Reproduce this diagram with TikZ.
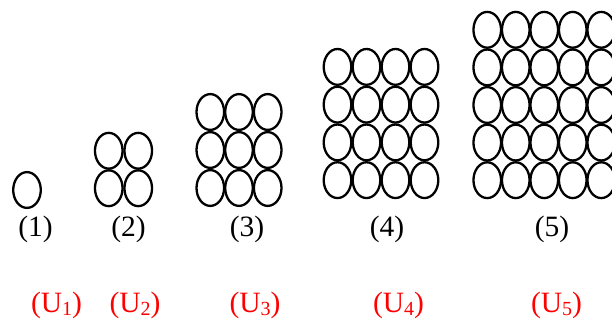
\documentclass[tikz,border=0pt]{standalone}
\usepackage{fontspec}
\setmainfont{Liberation Serif}
\newcommand{\sbs}[1]{\raisebox{-0.13em}{\fontsize{20}{22}\selectfont #1}}
\begin{document}
\begin{tikzpicture}[x=1pt,y=-1pt,
  cell/.style={line width=2.3pt},
  num/.style={font=\fontsize{29.5}{32}\selectfont, inner sep=0pt},
  ulab/.style={font=\fontsize{29.5}{32}\selectfont, text=red, inner sep=0pt}]
\clip (0,0) rectangle (612,320);
\tikzset{er/.style={x radius=13.8pt, y radius=17.9pt}}
% figure 1
\draw[cell] (27,190) ellipse [er];
% figure 2
\foreach \i in {0,1} \foreach \j in {0,1}
  \draw[cell] (108.75+29.5*\i, 150.75+37.5*\j) ellipse [er];
% figure 3
\foreach \i in {0,1,2} \foreach \j in {0,1,2}
  \draw[cell] (210.3+28.7*\i, 112+38*\j) ellipse [er];
% figure 4
\foreach \i in {0,...,3} \foreach \j in {0,...,3}
  \draw[cell] (337.5+29*\i, 66.9+37.75*\j) ellipse [er];
% figure 5
\foreach \i in {0,...,4} \foreach \j in {0,...,4}
  \draw[cell] (487.25+28.5*\i, 29.8+37.6*\j) ellipse [er];
% number labels
\node[num] (n1) at (35.5,229) {(1)};
\node[num] (n2) at (128.5,229) {(2)};
\node[num] (n3) at (247,229) {(3)};
\node[num] (n4) at (387,229) {(4)};
\node[num] (n5) at (552,229) {(5)};
% red labels
\node[ulab] (u1) at (56.5,305) {(U\sbs{1})};
\node[ulab] (u2) at (135,305) {(U\sbs{2})};
\node[ulab] (u3) at (255,305) {(U\sbs{3})};
\node[ulab] (u4) at (398.5,305) {(U\sbs{4})};
\node[ulab] (u5) at (556.5,305) {(U\sbs{5})};
\end{tikzpicture}
\end{document}
